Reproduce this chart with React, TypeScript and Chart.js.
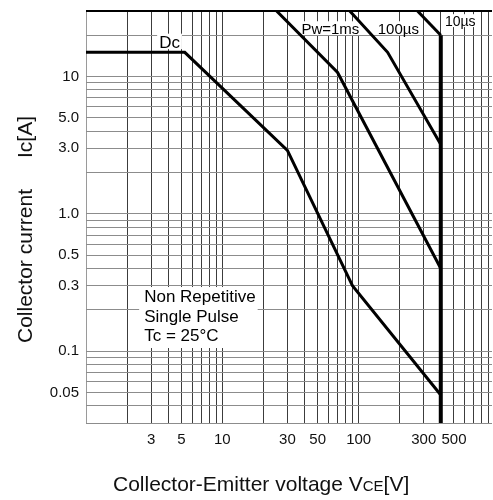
import React, { useEffect, useRef } from 'react';
import { Chart, registerables } from 'chart.js';

Chart.register(...registerables);

const FONT = "'Liberation Sans', Arial, Helvetica, sans-serif";

// Safe operating area curves: collector-emitter voltage [V] / collector current [A]
const dcVoltage = [1, 5.3, 30, 90, 400];
const dcCurrent = [15, 15, 2.9, 0.3, 0.048];
const pw1msVoltage = [25, 70, 400];
const pw1msCurrent = [30, 10.7, 0.4];
const pw100usVoltage = [86, 163, 400];
const pw100usCurrent = [30, 15, 3.2];
const pw10usVoltage = [270, 400];
const pw10usCurrent = [30, 20];
const limitVoltage = [400, 400];
const limitCurrent = [20, 0.03];

// Grid / tick values
const xGridValues = [1, 2, 3, 4, 5, 6, 7, 8, 9, 10, 20, 30, 40, 50, 60, 70, 80, 90, 100, 200, 300, 400, 500, 600, 700, 800, 900];
const xTickValues = [3, 5, 10, 30, 50, 100, 300, 500];
const xTickLabels = ['3', '5', '10', '30', '50', '100', '300', '500'];
const yGridValues = [0.03, 0.04, 0.05, 0.06, 0.07, 0.08, 0.09, 0.1, 0.2, 0.3, 0.4, 0.5, 0.6, 0.7, 0.8, 0.9, 1, 2, 3, 4, 5, 6, 7, 8, 9, 10, 20, 30];
const yTickValues = [0.05, 0.1, 0.3, 0.5, 1, 3, 5, 10];
const yTickLabels = ['0.05', '0.1', '0.3', '0.5', '1.0', '3.0', '5.0', '10'];

// Curve label texts and their anchors (voltage, current at text baseline-left)
const curveLabelTexts = ['Dc', 'Pw=1ms', '100µs', '10µs'];
const curveLabelVoltages = [3.44, 38, 138, 429];
const curveLabelCurrents = [16.1, 20.4, 20.4, 23.3];
const curveLabelSizes = [17, 15, 15, 14];

const noteLines = ['Non Repetitive', 'Single Pulse', 'Tc = 25°C'];
const noteVoltage = 2.67;
const noteCurrent = 0.228;

const near = (a: number, b: number) => Math.abs(a - b) / b < 1e-6;

function toPoints(vs: number[], is: number[]) {
  return vs.map((v, k) => ({ x: v, y: is[k] }));
}

const annotPlugin = {
  id: 'soaAnnotations',
  beforeDatasetsDraw(chart: any) {
    const { ctx, chartArea, scales } = chart;
    const x = scales.x, y = scales.y;
    ctx.save();
    ctx.fillStyle = '#ffffff';
    curveLabelTexts.forEach((t, k) => {
      ctx.font = `${curveLabelSizes[k]}px ${FONT}`;
      const w = ctx.measureText(t).width;
      const px = x.getPixelForValue(curveLabelVoltages[k]);
      const py = y.getPixelForValue(curveLabelCurrents[k]);
      const top = Math.max(chartArea.top + 1.5, py - curveLabelSizes[k] * 0.85);
      ctx.fillRect(px - 2, top, w + 4, py + 1 - top);
    });
    ctx.font = `17px ${FONT}`;
    let mw = 0;
    noteLines.forEach((l) => { mw = Math.max(mw, ctx.measureText(l).width); });
    const nx = x.getPixelForValue(noteVoltage);
    const ny = y.getPixelForValue(noteCurrent);
    ctx.fillRect(nx - 5, ny - 15, mw + 7, 19.5 * 2 + 22);
    ctx.restore();
  },
  afterDatasetsDraw(chart: any) {
    const { ctx, scales } = chart;
    const x = scales.x, y = scales.y;
    ctx.save();
    ctx.fillStyle = '#000';
    ctx.textAlign = 'left';
    ctx.textBaseline = 'alphabetic';
    curveLabelTexts.forEach((t, k) => {
      ctx.font = `${curveLabelSizes[k]}px ${FONT}`;
      ctx.fillText(t, x.getPixelForValue(curveLabelVoltages[k]), y.getPixelForValue(curveLabelCurrents[k]));
    });
    ctx.font = `17px ${FONT}`;
    const nx = x.getPixelForValue(noteVoltage);
    const ny = y.getPixelForValue(noteCurrent);
    noteLines.forEach((l, k) => ctx.fillText(l, nx, ny + k * 19.5));
    ctx.restore();
  },
  afterDraw(chart: any) {
    const { ctx } = chart;
    ctx.save();
    ctx.fillStyle = '#111';
    ctx.textBaseline = 'alphabetic';
    // x-axis title with small "CE"
    let cx = 113;
    const by = 491;
    ctx.textAlign = 'left';
    ctx.font = `21px ${FONT}`;
    const p1 = 'Collector-Emitter voltage V';
    ctx.fillText(p1, cx, by);
    cx += ctx.measureText(p1).width;
    ctx.font = `15px ${FONT}`;
    ctx.fillText('CE', cx, by);
    cx += ctx.measureText('CE').width;
    ctx.font = `21px ${FONT}`;
    ctx.fillText('[V]', cx, by);
    // y-axis title
    ctx.translate(32, 0);
    ctx.rotate(-Math.PI / 2);
    ctx.font = `21px ${FONT}`;
    ctx.textAlign = 'left';
    ctx.fillText('Collector current', -343, 0);
    ctx.textAlign = 'right';
    ctx.fillText('Ic[A]', -116, 0);
    ctx.restore();
  },
};

export default function App() {
  const ref = useRef<HTMLCanvasElement | null>(null);

  useEffect(() => {
    if (!ref.current) return;
    const lineStyle = {
      borderColor: '#000',
      borderWidth: 3,
      pointRadius: 0,
      fill: false,
      tension: 0,
      borderJoinStyle: 'miter' as const,
    };
    const chart = new Chart(ref.current, {
      type: 'line',
      data: {
        datasets: [
          { label: 'Dc', data: toPoints(dcVoltage, dcCurrent), ...lineStyle },
          { label: 'Pw=1ms', data: toPoints(pw1msVoltage, pw1msCurrent), ...lineStyle },
          { label: '100µs', data: toPoints(pw100usVoltage, pw100usCurrent), ...lineStyle },
          { label: '10µs', data: toPoints(pw10usVoltage, pw10usCurrent), ...lineStyle },
          { label: 'limit', data: toPoints(limitVoltage, limitCurrent), ...lineStyle, borderWidth: 4 },
        ],
      },
      options: {
        animation: false,
        responsive: false,
        devicePixelRatio: 1,
        layout: { padding: { left: 0, top: 11, right: 1, bottom: 0 } },
        plugins: { legend: { display: false }, tooltip: { enabled: false }, title: { display: false } },
        scales: {
          x: {
            type: 'logarithmic',
            min: 1,
            max: 950,
            afterBuildTicks: (s: any) => { s.ticks = xGridValues.map((v) => ({ value: v })); },
            afterFit: (s: any) => { s.height = 77; s.paddingLeft = 0; s.paddingRight = 0; },
            border: { display: false },
            grid: {
              drawTicks: false,
              color: (c: any) => (c.tick && c.tick.value === 1 ? '#9a9a9a' : '#3c3c3c'),
              lineWidth: 1,
            },
            ticks: {
              autoSkip: false,
              maxRotation: 0,
              padding: 8,
              color: '#111',
              font: { family: FONT, size: 15 },
              callback: (v: any) => {
                const k = xTickValues.findIndex((t) => near(Number(v), t));
                return k >= 0 ? xTickLabels[k] : '';
              },
            },
          },
          y: {
            type: 'logarithmic',
            min: 0.03,
            max: 30,
            afterBuildTicks: (s: any) => { s.ticks = yGridValues.map((v) => ({ value: v })); },
            afterFit: (s: any) => { s.width = 86; s.paddingTop = 0; s.paddingBottom = 0; },
            border: { display: false },
            grid: {
              drawTicks: false,
              color: (c: any) => (c.tick && c.tick.value === 30 ? '#000' : '#8c8c8c'),
              lineWidth: (c: any) => (c.tick && c.tick.value === 30 ? 2 : 1),
            },
            ticks: {
              autoSkip: false,
              padding: 7,
              color: '#111',
              font: { family: FONT, size: 15 },
              callback: (v: any) => {
                const k = yTickValues.findIndex((t) => near(Number(v), t));
                return k >= 0 ? yTickLabels[k] : '';
              },
            },
          },
        },
      },
      plugins: [annotPlugin],
    } as any);
    return () => chart.destroy();
  }, []);

  return (
    <div style={{ position: 'absolute', left: 0, top: 0, width: 493, height: 500, background: '#fff' }}>
      <canvas ref={ref} width={493} height={500} style={{ width: 493, height: 500, display: 'block' }} />
    </div>
  );
}
